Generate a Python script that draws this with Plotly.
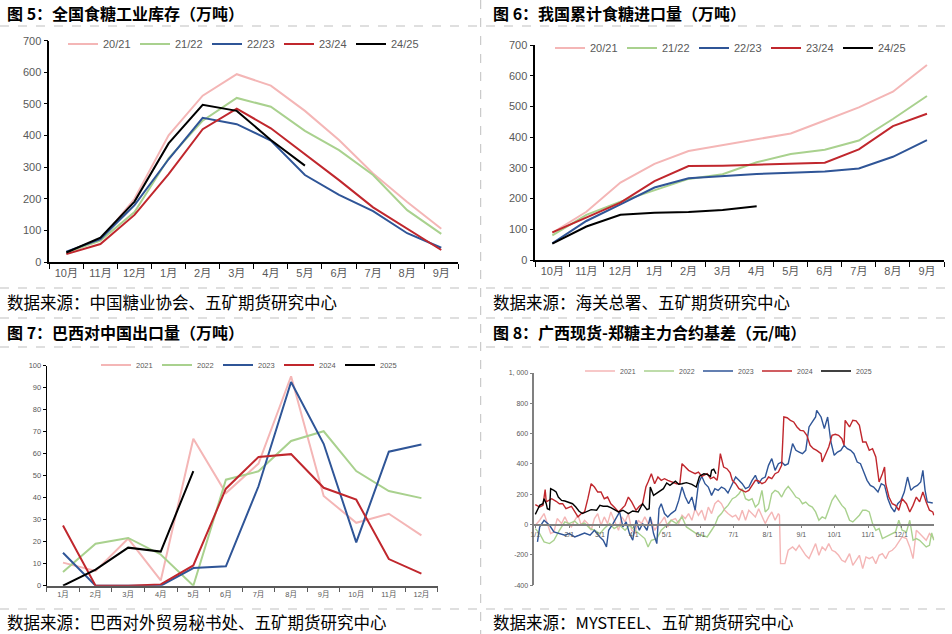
import pandas as pd
import plotly.graph_objects as go

W, H = 952, 634

# ---- 图5 / 图6 : seasons Oct..Sep
months_a = ["10月", "11月", "12月", "1月", "2月", "3月", "4月", "5月", "6月", "7月", "8月", "9月"]
seasons = ["20/21", "21/22", "22/23", "23/24", "24/25"]

stock_2021 = [28, 70, 200, 401, 526, 594, 558, 478, 386, 280, 190, 105]
stock_2122 = [30, 68, 158, 328, 447, 519, 491, 415, 354, 275, 164, 89]
stock_2223 = [33, 72, 180, 325, 456, 436, 384, 275, 212, 161, 91, 45]
stock_2324 = [25, 57, 149, 278, 420, 485, 423, 342, 259, 173, 106, 38]
stock_2425 = [30, 77, 191, 375, 497, 478, 386, 305]

import_2021 = [88, 157, 252, 313, 355, 374, 393, 412, 454, 497, 548, 635]
import_2122 = [80, 147, 190, 226, 264, 279, 318, 345, 359, 389, 459, 534]
import_2223 = [54, 127, 181, 236, 266, 273, 280, 284, 288, 298, 336, 390]
import_2324 = [90, 139, 187, 257, 306, 307, 310, 313, 317, 360, 436, 476]
import_2425 = [53, 109, 147, 154, 156, 163, 175]

# ---- 图7 : calendar months
months_b = ["1月", "2月", "3月", "4月", "5月", "6月", "7月", "8月", "9月", "10月", "11月", "12月"]
years = ["2021", "2022", "2023", "2024", "2025"]

brazil_2021 = [10.5, 6.7, 21.4, 2.4, 66.8, 42.1, 55.5, 95.2, 40.8, 28.6, 32.7, 22.9]
brazil_2022 = [6.2, 19.1, 21.7, 14.2, 0, 48.2, 52.0, 65.8, 70.2, 52.1, 43.0, 39.8]
brazil_2023 = [15.0, 0, 0, 0, 8.0, 8.8, 45.2, 92.6, 64.5, 19.7, 60.9, 64.2]
brazil_2024 = [27.4, 0, 0, 0.6, 9.2, 44.1, 58.5, 59.8, 44.5, 39.1, 12.1, 5.5]
brazil_2025 = [0, 7.3, 17.3, 15.5, 52.1]

# ---- 图8 : basis, day of year -> value
basis_2021_day = [0, 4, 8, 11, 14, 17, 20, 24, 27, 30,
                  33, 36, 39, 42, 45, 48, 51, 54, 57, 60,
                  63, 66, 69, 72, 76, 79, 82, 85, 88, 91,
                  94, 97, 100, 103, 106, 109, 112, 115, 118, 121,
                  124, 128, 131, 134, 137, 140, 143, 146, 149, 152,
                  155, 158, 161, 164, 167, 170, 173, 176, 180, 183,
                  186, 189, 192, 195, 198, 201, 204, 207, 210, 213,
                  216, 219, 222, 223, 224, 228, 231, 235, 238, 241,
                  244, 247, 250, 253, 256, 259, 262, 265, 268, 271,
                  274, 277, 280, 283, 287, 290, 293, 296, 299, 302,
                  305, 308, 311, 314, 317, 320, 323, 326, 329, 332,
                  335, 339, 342, 345, 348, 351, 354, 357, 360, 363,
                  364]
basis_2021 = [-4, 29, 73, 7, -59, -48, 40, 7, 51, 7,
              -15, 29, 62, -4, 29, 7, -37, 40, 73, -4,
              51, 7, 84, 29, -37, 51, 18, 73, -37, -59,
              29, 7, 51, 7, 29, -37, -4, 18, 51, -15,
              29, 40, 7, 62, 40, 73, 29, 105, 62, 95,
              29, 116, 73, 138, 160, 138, 95, 73, 51, 62,
              29, 95, 29, 95, 73, 51, 105, 51, 7, 51,
              84, 29, 73, 62, -257, -257, -169, -147, -169, -136,
              -169, -202, -224, -169, -125, -202, -147, -169, -125, -169,
              -180, -202, -235, -246, -191, -268, -235, -202, -290, -213,
              -224, -213, -257, -202, -191, -224, -180, -169, -147, -114,
              -81, -92, -147, -224, -37, -59, -81, -103, -59, -81,
              -92]

basis_2022_day = [0, 4, 8, 13, 17, 22, 27, 31, 36, 40,
                  45, 50, 54, 59, 63, 68, 72, 77, 82, 86,
                  91, 95, 100, 103, 106, 111, 115, 120, 124, 129,
                  134, 138, 143, 147, 152, 157, 161, 164, 167, 170,
                  173, 176, 180, 183, 186, 189, 192, 195, 198, 201,
                  204, 207, 210, 213, 216, 219, 222, 225, 228, 231,
                  235, 238, 241, 244, 247, 250, 253, 256, 259, 262,
                  265, 268, 271, 274, 277, 280, 283, 287, 290, 293,
                  296, 299, 302, 305, 308, 311, 314, 317, 320, 323,
                  326, 329, 332, 335, 339, 342, 345, 348, 351, 354,
                  357, 360, 362, 364]
basis_2022 = [-26, -59, -114, -125, -103, -37, 18, 7, 24, -4,
              11, -26, -37, -59, -26, 7, -26, -4, -37, -4,
              -37, -59, -92, -147, -103, -92, -37, -4, 29, 7,
              51, -15, -37, -59, -70, -81, -37, -4, 51, 73,
              105, 127, 171, 182, 204, 237, 171, 160, 171, 116,
              138, 226, 84, 105, 204, 226, 215, 182, 226, 253,
              215, 182, 171, 138, 149, 127, 116, 84, 29, 51,
              40, 105, 160, 193, 160, 127, 105, 29, 18, 40,
              62, 95, 95, 84, 7, -37, -26, -92, -81, -70,
              -59, -48, 29, -37, -48, 29, -103, -92, -103, -125,
              -147, -136, -55, -103]

basis_2023_day = [2, 4, 8, 13, 17, 22, 27, 31, 36, 40,
                  45, 50, 54, 59, 62, 65, 67, 71, 74, 77,
                  80, 83, 86, 89, 92, 95, 98, 102, 105, 108,
                  111, 113, 115, 118, 121, 124, 128, 131, 134, 137,
                  140, 143, 146, 149, 152, 155, 158, 161, 164, 167,
                  170, 173, 176, 180, 183, 186, 189, 192, 195, 198,
                  201, 204, 207, 210, 213, 216, 219, 222, 225, 228,
                  231, 235, 238, 241, 244, 247, 250, 253, 256, 257,
                  261, 264, 267, 270, 273, 276, 279, 282, 285, 288,
                  291, 294, 297, 300, 303, 306, 309, 313, 316, 319,
                  322, 325, 328, 331, 334, 337, 340, 343, 346, 349,
                  352, 354, 356, 358, 361, 363]
basis_2023 = [-114, -15, 29, -4, -48, -59, -70, -59, -81, -70,
              -55, -70, -37, -81, -103, -147, -37, 7, 51, 84,
              -15, 18, -59, -103, 29, -37, 7, -37, 51, -59,
              -125, 105, 138, 73, 51, 73, 95, 160, 248, 182,
              138, 182, 95, 270, 319, 270, 248, 193, 237, 226,
              248, 237, 209, 270, 314, 292, 270, 237, 248, 292,
              325, 270, 303, 314, 391, 435, 358, 402, 413, 391,
              402, 534, 490, 479, 468, 490, 644, 677, 710, 754,
              710, 633, 710, 545, 457, 479, 490, 523, 501, 490,
              468, 413, 402, 347, 292, 259, 248, 215, 270, 259,
              171, 116, 84, 138, 160, 215, 314, 226, 248, 259,
              281, 358, 226, 150, 143, 143]

basis_2024_day = [0, 4, 7, 9, 10, 13, 15, 19, 22, 25,
                  28, 33, 36, 39, 42, 45, 48, 51, 54, 57,
                  60, 63, 66, 69, 72, 76, 79, 82, 85, 88,
                  92, 95, 98, 101, 103, 106, 109, 112, 115, 118,
                  121, 126, 129, 132, 134, 137, 140, 143, 146, 149,
                  152, 157, 160, 163, 166, 167, 169, 172, 175, 178,
                  180, 183, 186, 189, 192, 195, 198, 201, 204, 207,
                  210, 213, 216, 219, 222, 225, 227, 230, 233, 236,
                  239, 242, 245, 248, 251, 254, 257, 261, 262, 265,
                  268, 271, 274, 277, 280, 282, 283, 287, 290, 293,
                  296, 299, 302, 305, 308, 311, 314, 317, 319, 320,
                  323, 326, 329, 332, 335, 339, 342, 345, 348, 351,
                  354, 357, 360, 363, 364]
basis_2024 = [132, 116, 127, 231, 150, 160, 171, 154, 138, 138,
              105, 121, 84, 51, 73, 84, 171, 270, 248, 215,
              215, 171, 182, 138, 116, 84, 105, 127, 182, 150,
              95, 121, 138, 248, 281, 336, 270, 314, 292, 303,
              292, 281, 270, 270, 402, 380, 358, 347, 336, 347,
              319, 336, 303, 314, 292, 336, 468, 380, 369, 341,
              292, 270, 237, 226, 215, 226, 259, 292, 288, 270,
              281, 314, 303, 336, 347, 391, 710, 705, 688, 677,
              644, 622, 618, 589, 523, 501, 490, 468, 413, 457,
              512, 589, 596, 589, 567, 523, 688, 644, 688, 684,
              655, 545, 545, 490, 501, 446, 281, 336, 380, 270,
              182, 138, 127, 95, 171, 138, 84, 127, 182, 150,
              215, 150, 95, 84, 62]

basis_2025_day = [0, 4, 7, 8, 10, 11, 13, 14, 17, 19,
                  21, 24, 27, 30, 34, 37, 40, 43, 46, 51,
                  56, 59, 62, 66, 69, 72, 76, 80, 85, 89,
                  94, 98, 102, 104, 105, 108, 111, 114, 117, 120,
                  123, 128, 131, 134, 138, 143, 147, 150, 154, 157,
                  160, 161, 163, 165]
basis_2025 = [68, 127, 138, 171, 138, 105, 99, 237, 226, 215,
              182, 160, 156, 150, 138, 116, 88, 73, 84, 99,
              95, 127, 121, 121, 112, 99, 84, 95, 73, 90,
              84, 138, 99, 105, 248, 193, 209, 222, 237, 275,
              259, 286, 266, 270, 277, 266, 248, 319, 336, 332,
              319, 358, 365, 336]

colors = ["#F4B6B6", "#A9D18E", "#2F5597", "#C0272D", "#000000"]
GREY = "#595959"
FONT = "Liberation Sans, Noto Sans CJK SC, sans-serif"


def px_x(v):
    return v / W


def px_y(v):
    return 1 - v / H


def to_dates(days):
    d = pd.Timestamp("2021-01-01") + pd.to_timedelta(days, unit="D")
    return [t.strftime("%Y-%m-%d") for t in d]


fig = go.Figure()

for name, ys, c in zip(seasons, [stock_2021, stock_2122, stock_2223, stock_2324, stock_2425], colors):
    fig.add_trace(go.Scatter(x=months_a[:len(ys)], y=ys, name=name, mode="lines",
                             line=dict(color=c, width=2), xaxis="x", yaxis="y", legend="legend"))

for name, ys, c in zip(seasons, [import_2021, import_2122, import_2223, import_2324, import_2425], colors):
    fig.add_trace(go.Scatter(x=months_a[:len(ys)], y=ys, name=name, mode="lines",
                             line=dict(color=c, width=2), xaxis="x2", yaxis="y2", legend="legend2"))

for name, ys, c in zip(years, [brazil_2021, brazil_2022, brazil_2023, brazil_2024, brazil_2025], colors):
    fig.add_trace(go.Scatter(x=months_b[:len(ys)], y=ys, name=name, mode="lines",
                             line=dict(color=c, width=2), xaxis="x3", yaxis="y3", legend="legend3"))

basis_days = [basis_2021_day, basis_2022_day, basis_2023_day, basis_2024_day, basis_2025_day]
basis_vals = [basis_2021, basis_2022, basis_2023, basis_2024, basis_2025]
for name, ds, ys, c in zip(years, basis_days, basis_vals, colors):
    fig.add_trace(go.Scatter(x=to_dates(ds), y=ys, name=name, mode="lines",
                             line=dict(color=c, width=1.4), xaxis="x4", yaxis="y4", legend="legend4"))

cat_x = dict(type="category", tickson="boundaries", ticks="outside", ticklen=5, range=[-0.5, 11.5],
             showline=True, linecolor="#000000", linewidth=1.5, showgrid=False, automargin=False,
             tickfont=dict(size=11, color=GREY), tickcolor="#000000")
num_y = dict(ticks="outside", ticklen=4, showline=True, linecolor="#000000", linewidth=1.5,
             showgrid=False, zeroline=False, automargin=False,
             tickfont=dict(size=11, color=GREY), tickcolor="#000000")

leg = dict(orientation="h", xanchor="left", yanchor="middle", bgcolor="rgba(0,0,0,0)",
           font=dict(size=11, color=GREY), entrywidth=27, tracegroupgap=0)


def dash(x0, y0, x1, y1):
    return dict(type="line", xref="paper", yref="paper", x0=px_x(x0), y0=px_y(y0),
                x1=px_x(x1), y1=px_y(y1), line=dict(color="#BFBFBF", width=1, dash="dash"))


def text(s, x, y, size, bold=False):
    return dict(text=f"<b>{s}</b>" if bold else s, xref="paper", yref="paper",
                x=px_x(x), y=px_y(y), xanchor="left", yanchor="middle", showarrow=False,
                font=dict(size=size, color="#000000", family="Noto Sans CJK SC, sans-serif"))


fig.update_layout(
    template="none",
    width=W, height=H, autosize=False,
    margin=dict(l=0, r=0, t=0, b=0, pad=0),
    paper_bgcolor="#FFFFFF", plot_bgcolor="#FFFFFF",
    font=dict(family=FONT, color=GREY),
    xaxis=dict(cat_x, domain=[px_x(49.3), px_x(458.3)], anchor="y"),
    yaxis=dict(num_y, domain=[px_y(262), px_y(40.7)], range=[0, 700], dtick=100, anchor="x"),
    xaxis2=dict(cat_x, domain=[px_x(535.3), px_x(944)], anchor="y2"),
    yaxis2=dict(num_y, domain=[px_y(260), px_y(45)], range=[0, 700], dtick=100, anchor="x2"),
    xaxis3=dict(cat_x, domain=[px_x(46.7), px_x(437.7)], anchor="y3", linecolor=GREY,
                linewidth=2, tickcolor=GREY, ticklen=4, tickfont=dict(size=7.5, color=GREY)),
    yaxis3=dict(num_y, domain=[px_y(585.7), px_y(365.7)], range=[0, 100], dtick=10, anchor="x3",
                linewidth=1, ticklen=3, tickfont=dict(size=7.5, color=GREY)),
    xaxis4=dict(type="date", domain=[px_x(534.3), px_x(934.3)], anchor="free",
                position=px_y(585.3) + (400 / 1400) * (px_y(373) - px_y(585.3)),
                range=["2020-12-31 02:00", "2021-12-31 10:00"],
                tick0="2021-01-01", dtick="M1", tickformat="%-m/%-d",
                ticks="outside", ticklen=3, tickcolor="#808080", automargin=False,
                showline=True, linecolor="#808080", linewidth=1.5, showgrid=False, zeroline=False,
                tickfont=dict(size=7, color=GREY)),
    yaxis4=dict(domain=[px_y(585.3), px_y(373)], range=[-400, 1000], anchor="x4",
                tickvals=[-400, -200, 0, 200, 400, 600, 800, 1000],
                ticktext=["-400", "-200", "0", "200", "400", "600", "800", "1, 000"],
                ticks="outside", ticklen=3, tickcolor="#808080", showline=True, automargin=False,
                linecolor="#808080", linewidth=1.5, showgrid=False, zeroline=False,
                tickfont=dict(size=7, color=GREY)),
    legend=dict(leg, x=px_x(63), y=px_y(44)),
    legend2=dict(leg, x=px_x(550), y=px_y(48)),
    legend3=dict(leg, x=px_x(96), y=px_y(365), entrywidth=16, font=dict(size=7.5, color=GREY)),
    legend4=dict(leg, x=px_x(580), y=px_y(371), entrywidth=14, font=dict(size=7, color=GREY)),
    shapes=[
        dash(0, 26, W, 26),
        dash(0, 288, W, 288),
        dash(0, 318, W, 318),
        dash(0, 347, W, 347),
        dash(0, 609, W, 609),
        dash(480.7, 0, 480.7, H),
    ],
    annotations=[
        text("图 5：全国食糖工业库存（万吨）", 5, 13, 16, True),
        text("图 6：我国累计食糖进口量（万吨）", 491, 13, 16, True),
        text("图 7：巴西对中国出口量（万吨）", 5, 332, 16, True),
        text("图 8：广西现货-郑糖主力合约基差（元/吨）", 491, 332, 16, True),
        text("数据来源：中国糖业协会、五矿期货研究中心", 5, 302, 16.5),
        text("数据来源：海关总署、五矿期货研究中心", 491, 302, 16.5),
        text("数据来源：巴西对外贸易秘书处、五矿期货研究中心", 5, 622, 16.5),
        text("数据来源：MYSTEEL、五矿期货研究中心", 491, 622, 16.5),
    ],
)

fig.write_html("out.html", config={"displayModeBar": False},
               post_script="document.body.style.margin='0px';")
